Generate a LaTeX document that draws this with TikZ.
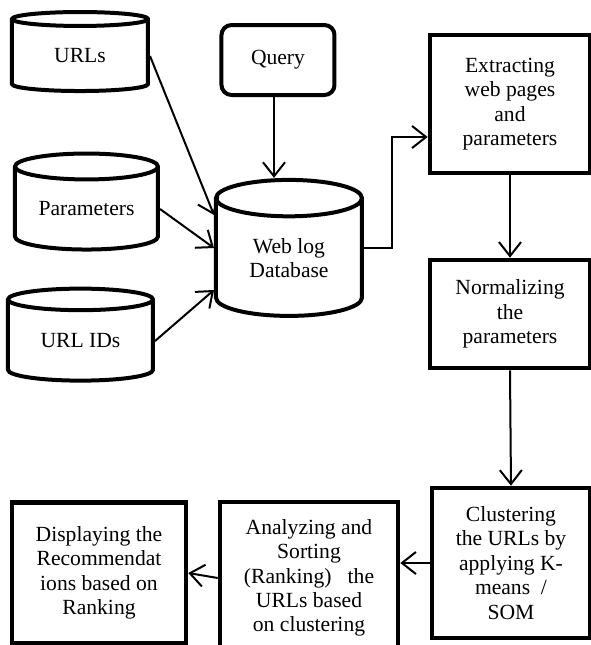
\documentclass[tikz,border=0pt]{standalone}
\usepackage{fontspec}
\setmainfont{Liberation Serif}
\newfontfamily\diagfont{Liberation Serif}
\usetikzlibrary{shapes.geometric,arrows.meta,positioning}

\tikzset{
  dbase/.style={cylinder, shape border rotate=90, draw, line width=2pt,
    align=center, inner sep=0pt},
  procbox/.style={rectangle, draw, line width=2.3pt, align=center, inner sep=0pt},
  flow/.style={line width=1pt,
    -{Straight Barb[length=7pt,width=11pt,line width=1pt]}},
}

\begin{document}
\begin{tikzpicture}[x=0.5pt,y=-0.5pt,font=\diagfont\fontsize{10.8}{12.2}\selectfont]
  \useasboundingbox (0,0) rectangle (591,645);

  % data sources
  \node[dbase, aspect=0.27, minimum width=68pt, minimum height=39.5pt] (urls) at (80,56) {URLs};
  \node[dbase, aspect=0.27, minimum width=71.5pt, minimum height=48pt] (params) at (86.5,209) {Parameters};
  \node[dbase, aspect=0.27, minimum width=72.5pt, minimum height=46pt] (urlids) at (80.5,341) {URL IDs};
  \node[rectangle, rounded corners=5pt, draw, line width=2pt, minimum width=56.5pt,
    minimum height=35pt] (query) at (278,60) {Query};
  \node[dbase, aspect=0.46, minimum width=73pt, minimum height=68pt] (weblog) at (289,258) {Web log\\Database};

  % processing steps
  \node[procbox, minimum width=80pt, minimum height=69pt] (extract) at (510,104)
    {Extracting\\web pages\\and\\parameters};
  \node[procbox, minimum width=80pt, minimum height=54pt] (normal) at (510,314)
    {Normalizing\\the\\parameters};
  \node[procbox, minimum width=79pt, minimum height=75pt] (cluster) at (511,563)
    {Clustering\\the URLs by\\applying K-\\means~~/\\SOM};
  \node[procbox, minimum width=89pt, minimum height=76pt] (analyze) at (309,578)
    {Analyzing and\\Sorting\\(Ranking)~~ the\\URLs based\\on clustering};
  \node[procbox, minimum width=87pt, minimum height=70.5pt] (display) at (99,573)
    {Displaying the\\Recommendat\\ions based on\\Ranking};

  \draw[flow] (urls.east) -- ([yshift=21.5pt]weblog.west);
  \draw[flow] (params.east) -- ([yshift=5pt]weblog.west);
  \draw[flow] (urlids.east) -- ([yshift=-16pt]weblog.west);
  \draw[flow] ([xshift=-2pt]query.south) -- ([xshift=-2pt]query.south |- weblog.north);
  \draw[flow] ([yshift=5pt]weblog.east) -- ++(28,0) |- ([yshift=-16.5pt]extract.west);
  \draw[flow] (extract.south) -- (normal.north);
  \draw[flow] (normal.south) -- (cluster.north);
  \draw[flow] (cluster.west) -- (cluster.west -| analyze.east);
  \draw[flow] (analyze.west) -- (display.east);
\end{tikzpicture}
\end{document}
